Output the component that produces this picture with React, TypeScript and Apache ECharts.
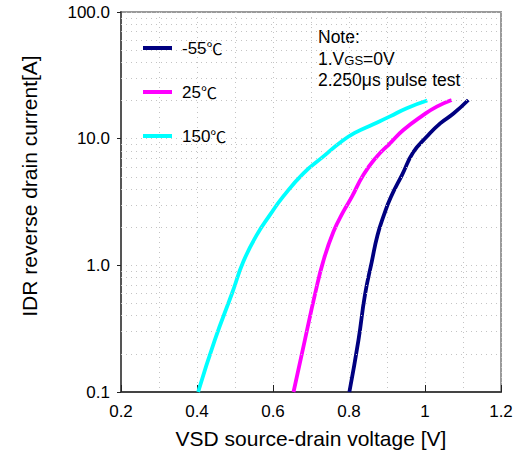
import React, { useEffect, useRef } from "react";
import * as echarts from "echarts";

// -55℃ curve
const vN55 = [0.801, 0.825, 0.842, 0.860, 0.875, 0.892, 0.910, 0.940, 0.969, 1.005, 1.040, 1.075, 1.114];
const iN55 = [0.1, 0.258, 0.584, 1.07, 1.73, 2.5, 3.45, 5.2, 7.8, 10.4, 13.2, 15.8, 20.2];
// 25℃ curve
const v25 = [0.654, 0.684, 0.711, 0.732, 0.759, 0.785, 0.807, 0.838, 0.873, 0.908, 0.943, 0.996, 1.031, 1.070];
const i25 = [0.1, 0.258, 0.6, 1.07, 1.84, 2.65, 3.45, 5.2, 7.21, 9.19, 11.7, 15.4, 17.9, 20.2];
// 150℃ curve
const v150 = [0.403, 0.447, 0.493, 0.522, 0.557, 0.592, 0.627, 0.680, 0.732, 0.776, 0.815, 0.864, 0.908, 0.952, 1.006];
const i150 = [0.1, 0.258, 0.61, 1.07, 1.73, 2.5, 3.5, 5.33, 7.21, 9.3, 11.1, 13.0, 15.0, 17.4, 20.0];

const seriesNames = ["-55℃", "25℃", "150℃"];
const seriesColors = ["#000080", "#ff00ff", "#00ffff"];
const noteLines = ["Note:", "1.V{s|GS}=0V", "2.250μs pulse test"];
const yMinorGrid = [0.2, 0.3, 0.4, 0.5, 0.6, 0.7, 0.8, 0.9, 2, 3, 4, 5, 6, 7, 8, 9, 20, 30, 40, 50, 60, 70, 80, 90];

const FONT = "'Liberation Sans', Arial, sans-serif";
const CJK = "'Noto Sans CJK SC', sans-serif";

function zip(xs: number[], ys: number[]) {
  return xs.map((x, k) => [x, ys[k]]);
}

export default function App() {
  const ref = useRef<HTMLDivElement>(null);
  useEffect(() => {
    if (!ref.current) return;
    const chart = echarts.init(ref.current, null, { renderer: "svg" });
    const grid = { color: "#c4c4c4", type: [1, 4] as any, width: 1 };
    const data = [zip(vN55, iN55), zip(v25, i25), zip(v150, i150)];
    chart.setOption({
      animation: false,
      backgroundColor: "#fff",
      textStyle: { fontFamily: FONT },
      grid: {
        left: 121, right: 17, top: 12, bottom: 63,
        show: true, borderColor: "#9a9a9a", borderWidth: 2, backgroundColor: "transparent",
      },
      legend: {
        data: seriesNames,
        orient: "vertical",
        left: 138,
        top: 33,
        itemWidth: 29,
        itemHeight: 4,
        itemGap: 24,
        icon: "rect",
        formatter: (name: string) => name.replace("℃", "{c|℃}"),
        textStyle: {
          fontSize: 17, color: "#000", lineHeight: 20, fontFamily: FONT, padding: [0, 0, 0, 5],
          rich: { c: { fontSize: 16, color: "#000", fontFamily: CJK, lineHeight: 20 } },
        },
      },
      xAxis: {
        type: "value",
        min: 0.2, max: 1.2, interval: 0.2,
        axisLine: { show: true, lineStyle: { color: "#444", width: 2 } },
        axisTick: { show: true, inside: true, length: 7, lineStyle: { color: "#222", width: 1 } },
        axisLabel: {
          fontSize: 17, color: "#000", margin: 11, fontFamily: FONT,
          formatter: (v: number) => String(Number(v.toFixed(1))),
        },
        splitLine: { show: true, lineStyle: grid },
        minorTick: { show: false, splitNumber: 2 },
        minorSplitLine: { show: true, lineStyle: grid },
        name: "VSD source-drain voltage [V]",
        nameLocation: "middle",
        nameGap: 36,
        nameTextStyle: { fontSize: 21, color: "#000", fontFamily: FONT },
      },
      yAxis: {
        type: "log",
        logBase: 10,
        min: 0.1, max: 100,
        axisLine: { show: true, lineStyle: { color: "#555", width: 2 } },
        axisTick: { show: true, inside: false, length: 4, lineStyle: { color: "#222", width: 1 } },
        axisLabel: {
          fontSize: 17, color: "#000", margin: 11, fontFamily: FONT,
          formatter: (v: number) => v.toFixed(1),
        },
        splitLine: { show: true, lineStyle: grid },
      },
      graphic: [
        {
          type: "text", x: 29, y: 186, rotation: Math.PI / 2,
          style: {
            text: "IDR reverse drain current[A]", fontSize: 21, fill: "#000", fontFamily: FONT,
            align: "center", verticalAlign: "middle",
          },
        },
        ...noteLines.map((t, k) => ({
          type: "text", x: 318, y: 37 + k * 21.7,
          style: {
            text: t, fontSize: 17.5, fill: "#000", fontFamily: FONT,
            align: "left", verticalAlign: "middle",
            rich: { s: { fontSize: 13, fontFamily: FONT, fill: "#000", padding: [3, 0, 0, 0] } },
          },
        })),
      ],
      series: [
        {
          type: "line",
          data: [],
          silent: true,
          z: 1,
          markLine: {
            silent: true,
            symbol: ["none", "none"],
            label: { show: false },
            lineStyle: grid,
            emphasis: { disabled: true },
            data: yMinorGrid.map((v) => ({ yAxis: v })),
          },
        },
        ...seriesNames.map((name, k) => ({
          name,
          type: "line",
          data: data[k],
          smooth: 0.5,
          showSymbol: false,
          symbol: "none",
          z: 3,
          color: seriesColors[k],
          lineStyle: { color: seriesColors[k], width: 3.8 },
        })),
      ],
    });
    return () => chart.dispose();
  }, []);
  return <div ref={ref} style={{ width: 518, height: 455, position: "absolute", left: 0, top: 0 }} />;
}
